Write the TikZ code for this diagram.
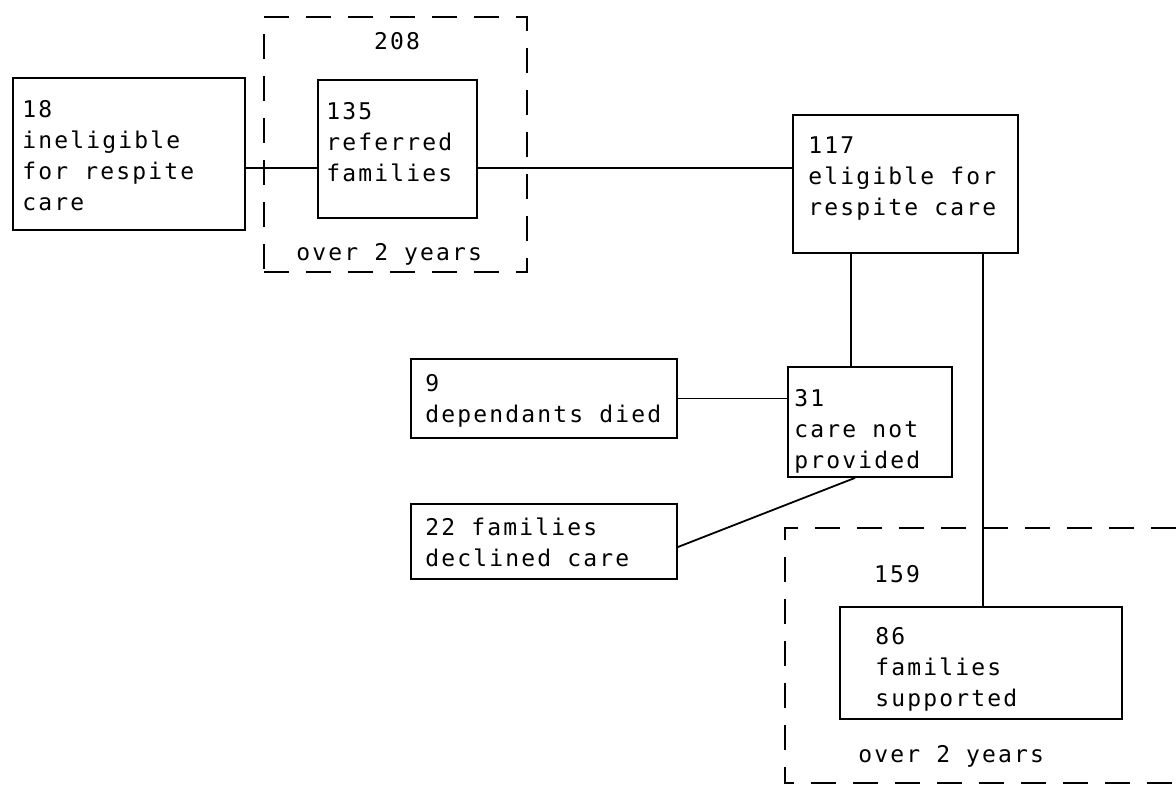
\documentclass[tikz,border=0pt]{standalone}
\usepackage{fontspec}
\newfontfamily\tw[LetterSpace=9.4]{DejaVu Sans Mono}
\begin{document}
\begin{tikzpicture}[x=0.5pt,y=-0.5pt,
  box/.style={draw, line width=0.9pt, rectangle, inner sep=0pt},
  dbox/.style={draw, line width=0.9pt, dash pattern=on 12.5pt off 8.5pt, rectangle, inner sep=0pt},
  dline/.style={line width=0.9pt, dash pattern=on 12.5pt off 8.5pt},
  conn/.style={line width=0.9pt},
  txt/.style={anchor=north west, inner sep=0pt, align=left, font=\tw\fontsize{11.5pt}{15.5pt}\selectfont},
  lab/.style={inner sep=0pt, font=\tw\fontsize{11.5pt}{15.5pt}\selectfont}]
\useasboundingbox (0,0) rectangle (1176,788);

% dashed group boxes
\node[dbox, minimum width=131.5pt, minimum height=127.5pt] (d208) at (395.5,144.5) {};
\draw[dline] (1176,528) -- (785,528) -- (785,783) -- (1176,783);

% boxes
\node[box, minimum width=116pt, minimum height=76pt] (b18) at (129,154) {};
\node[box, minimum width=79.5pt, minimum height=69pt] (b135) at (397.5,149) {};
\node[box, minimum width=112.5pt, minimum height=69pt] (b117) at (905.5,184) {};
\node[box, minimum width=133pt, minimum height=39.5pt] (b9) at (544,398.5) {};
\node[box, minimum width=82pt, minimum height=55pt] (b31) at (870,422) {};
\node[box, minimum width=133pt, minimum height=37.5pt] (b22) at (544,541.5) {};
\node[box, minimum width=141pt, minimum height=56pt] (b86) at (981,663) {};

% texts
\node[txt] (t18) at (22,100) {18\\ineligible\\for respite\\care};
\node[txt] (t135) at (326,102) {135\\referred\\families};
\node[txt] (t117) at (808,136) {117\\eligible for\\respite care};
\node[txt] (t9) at (425,374) {9\\dependants died};
\node[txt] (t31) at (794,389) {31\\care not\\provided};
\node[txt] (t22) at (425,517) {22 families\\declined care};
\node[txt] (t86) at (875,627) {86\\families\\supported};

% labels
\node[lab] (l208) at (397,41) {208};
\node[lab, anchor=base west] (lover1) at (296,260) {over 2 years};
\node[lab, anchor=base] (l159) at (897,582) {159};
\node[lab, anchor=base west] (lover2) at (858,762) {over 2 years};

% connectors
\draw[conn] ([yshift=-7pt]b18.east) -- ([yshift=-9.5pt]b135.west);
\draw[conn] ([yshift=-9.5pt]b135.east) -- ([yshift=8pt]b117.west);
\draw[conn] ([xshift=-9.5pt]b31.north) -- ([xshift=-9.5pt]b31.north |- b117.south);
\draw[conn] ([xshift=1pt]b86.north) -- ([xshift=1pt]b86.north |- b117.south);
\draw[conn] (b9.east) -- (b9.east -| b31.west);
\draw[conn] ([xshift=-7.5pt]b31.south) -- ([yshift=-2.75pt]b22.east);
\end{tikzpicture}
\end{document}
